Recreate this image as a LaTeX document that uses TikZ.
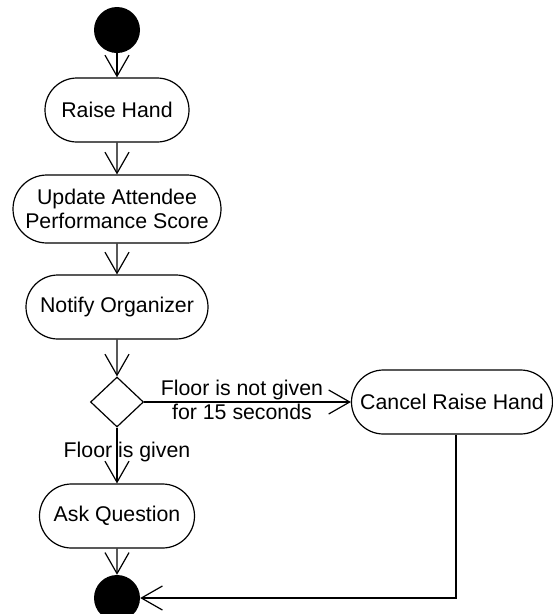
\documentclass[tikz,border=0pt]{standalone}
\usepackage{fontspec}
\setmainfont{Liberation Sans}
\usetikzlibrary{shapes.misc, shapes.geometric, arrows.meta, positioning}

\begin{document}
\begin{tikzpicture}[
  x=1pt, y=-1pt,
  every node/.style={font=\fontsize{21.3}{24}\selectfont, align=center},
  activity/.style={rounded rectangle, draw, line width=1.2pt, minimum height=64pt, inner sep=0pt},
  choice/.style={diamond, draw, line width=1.2pt, minimum width=53pt, minimum height=50pt, inner sep=0pt},
  dot/.style={circle, fill, minimum size=46pt, inner sep=0pt},
  guard/.style={inner sep=0pt},
  flow/.style={-{Straight Barb[length=21pt, width=24pt]}, line width=1.2pt}
]
  \useasboundingbox (0,0) rectangle (553,614);
  \clip (0,0) rectangle (553,614);

  % flow nodes
  \node[dot] (start) at (117,30) {};
  \node[activity, minimum width=144pt] (raise) at (117,110) {Raise Hand};
  \node[activity, minimum width=208pt, minimum height=68pt] (update) at (117,209) {Update Attendee\\Performance Score};
  \node[activity, minimum width=182pt] (notify) at (117,307) {Notify Organizer};
  \node[choice] (floor) at (117,402) {};
  \node[activity, minimum width=201pt] (cancel) at (452,402) {Cancel Raise Hand};
  \node[activity, minimum width=155pt] (ask) at (117,516) {Ask Question};
  \node[dot] (stop) at (117,598) {};

  % guards
  \node[guard] (notgiven) at (242,400) {Floor is not given\\for 15 seconds};
  \node[guard] (given) at (127,452) {Floor is given};

  % connectors
  \draw[flow] (start) -- (raise);
  \draw[flow] (raise) -- (update);
  \draw[flow] (update) -- (notify);
  \draw[flow] (notify) -- (floor);
  \draw[flow] (floor) -- (cancel);
  \draw[flow] (floor) -- (ask);
  \draw[flow] (ask) -- (stop);
  \draw[flow] ([xshift=4pt]cancel.south) |- (stop);
\end{tikzpicture}
\end{document}
